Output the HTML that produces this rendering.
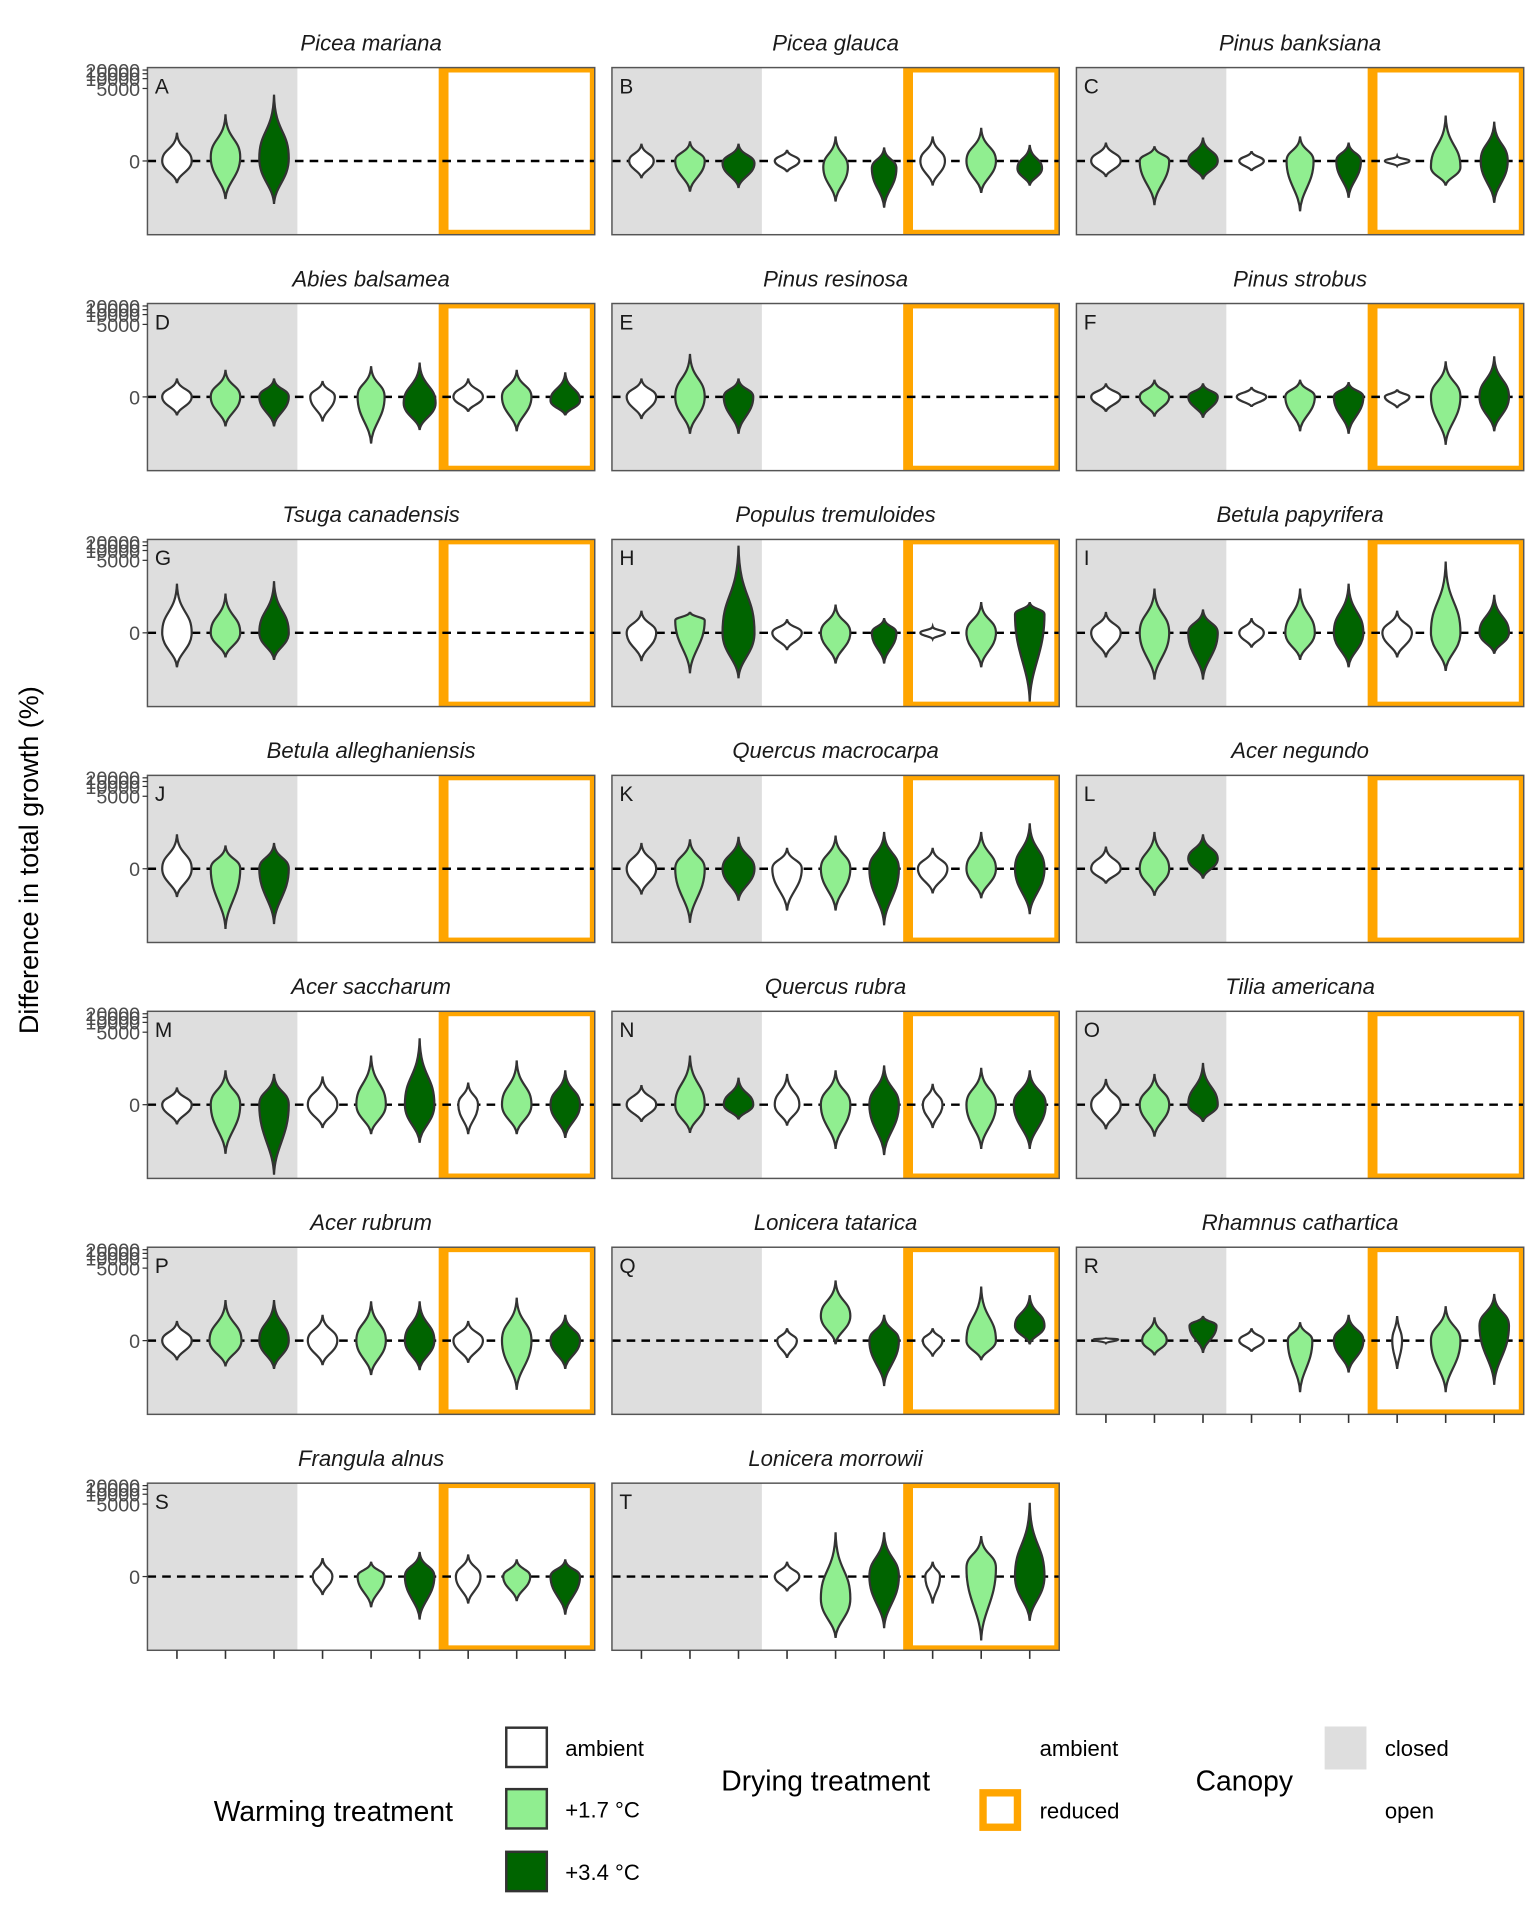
<!DOCTYPE html>
<html><head><meta charset="utf-8"><style>html,body{margin:0;padding:0;background:#fff}svg{display:block}text{font-family:"Liberation Sans",sans-serif}</style></head>
<body>
<svg id="s" width="1536" height="1920" viewBox="0 0 1250 1562.5" preserveAspectRatio="none" xmlns="http://www.w3.org/2000/svg"></svg>
<script>
const W='#ffffff',L='#90EE90',D='#006400';
const cols=[120,498,876],rows=[55,247,439,631,823,1015,1207];
const P=[
["Picea mariana","A",1,[[W,23,18,12,0],[L,38,31,12,-3],[D,54,35,12,-2]]],
["Picea glauca","B",1,[[W,14,14,10,0],[L,16,25,12,0],[D,14,22,13,2],[W,9,9,10,0],[L,20,33,10,5],[D,11,38,10,6],[W,20,20,10,0],[L,27,26,12,0],[D,13,20,10,6]]],
["Pinus banksiana","C",1,[[W,15,13,12,0],[L,12,36,12,0],[D,19,15,12,0],[W,8,8,10,0],[L,20,41,11,0],[D,15,30,10,0],[W,4,4,10,0],[L,37,20,12,5],[D,32,34,11,0]]],
["Abies balsamea","D",1,[[W,15,15,12,0],[L,22,24,12,0],[D,15,24,12,0],[W,13,20,10,0],[L,25,38,11,0],[D,28,27,13,5],[W,15,12,12,0],[L,22,28,12,0],[D,20,15,12,3]]],
["Pinus resinosa","E",1,[[W,15,18,12,0],[L,35,30,12,0],[D,15,30,12,0]]],
["Pinus strobus","F",1,[[W,11,12,12,0],[L,14,16,12,0],[D,11,17,12,0],[W,8,8,12,0],[L,14,28,12,0],[D,12,30,12,0],[W,6,9,10,0],[L,29,39,12,0],[D,33,28,12,0]]],
["Tsuga canadensis","G",1,[[W,40,28,12,0],[L,32,20,12,0],[D,42,22,12,0]]],
["Populus tremuloides","H",1,[[W,18,23,12,0],[L,17,33,12,-10],[D,71,37,13,0],[W,11,14,12,0],[L,23,25,12,0],[D,12,25,10,0],[W,5,5,10,0],[L,25,28,12,0],[D,25,56,12,-15]]],
["Betula papyrifera","I",1,[[W,17,20,12,0],[L,36,38,12,0],[D,19,38,12,0],[W,12,12,10,0],[L,36,22,12,0],[D,40,28,12,0],[W,18,20,12,0],[L,58,31,12,0],[D,31,17,12,0]]],
["Betula alleghaniensis","J",1,[[W,28,23,12,0],[L,19,49,12,0],[D,21,45,12,0]]],
["Quercus macrocarpa","K",1,[[W,21,21,12,0],[L,24,44,12,0],[D,26,26,13,0],[W,17,34,12,0],[L,27,34,12,0],[D,30,46,12,0],[W,17,20,12,0],[L,30,24,12,0],[D,37,37,12,0]]],
["Acer negundo","L",1,[[W,18,12,12,0],[L,30,22,12,0],[D,28,8,12,-8]]],
["Acer saccharum","M",1,[[W,14,16,12,0],[L,28,40,12,0],[D,25,57,12,0],[W,23,19,12,0],[L,40,24,12,0],[D,54,31,12,0],[W,18,24,8,0],[L,36,24,12,0],[D,28,27,12,0]]],
["Quercus rubra","N",1,[[W,16,14,12,0],[L,40,23,12,0],[D,22,12,12,0],[W,25,17,10,0],[L,28,36,12,0],[D,32,41,12,0],[W,17,19,8,0],[L,30,36,12,0],[D,28,36,13,0]]],
["Tilia americana","O",1,[[W,21,20,12,0],[L,25,26,12,0],[D,34,14,12,0]]],
["Acer rubrum","P",1,[[W,16,16,12,0],[L,33,21,13,0],[D,33,23,12,0],[W,21,20,12,0],[L,32,28,12,0],[D,32,24,12,0],[W,16,18,12,0],[L,35,40,12,0],[D,21,23,12,0]]],
["Lonicera tatarica","Q",1,[null,null,null,[W,10,14,8,0],[L,49,3,12,-20],[D,21,37,12,0],[W,10,13,8,0],[L,44,16,12,0],[D,37,3,12,-12]]],
["Rhamnus cathartica","R",1,[[W,2,2,10,0],[L,19,12,10,0],[D,20,10,11,-12],[W,10,9,10,0],[L,15,42,10,0],[D,21,26,12,0],[W,20,23,4,0],[L,28,42,12,0],[D,38,36,12,-12]]],
["Frangula alnus","S",1,[null,null,null,[W,15,15,8,0],[L,12,25,11,0],[D,20,35,12,0],[W,18,22,10,0],[L,14,20,11,0],[D,14,31,12,0]]],
["Lonicera morrowii","T",1,[null,null,null,[W,12,12,10,0],[L,36,50,12,18],[D,36,42,12,0],[W,12,22,6,0],[L,33,52,12,-7],[D,60,36,12,0]]]
];
let h='';
function vio(x,z,v){const [f,up,dn,w,c]=v;const t=z-up,b=z+dn;let cy=z+c;if(cy<t+3)cy=t+3;if(cy>b-3)cy=b-3;
const a=cy-t,d=b-cy;
return `<path d="M${x},${t} C${x+0.8},${t+0.6*a} ${x+w},${cy-0.45*a} ${x+w},${cy} C${x+w},${cy+0.45*d} ${x+0.8},${cy+0.6*d} ${x},${b} C${x-0.8},${cy+0.6*d} ${x-w},${cy+0.45*d} ${x-w},${cy} C${x-w},${cy-0.45*a} ${x-0.8},${t+0.6*a} ${x},${t} Z" fill="${f}" stroke="#333" stroke-width="1.8"/>`;}
P.forEach((p,i)=>{const r=Math.floor(i/3),c=i%3;const x0=cols[c],y0=rows[r],wd=364,ht=136,z=y0+76;
h+=`<rect x="${x0}" y="${y0}" width="122" height="${ht}" fill="#dedede"/>`;
h+=`<rect x="${x0+237}" y="${y0}" width="127" height="${ht}" fill="#FFA500"/><rect x="${x0+245}" y="${y0+4}" width="115" height="${ht-8}" fill="#fff"/>`;
h+=`<line x1="${x0}" x2="${x0+wd}" y1="${z}" y2="${z}" stroke="#000" stroke-width="2" stroke-dasharray="7,5"/>`;
p[3].forEach((v,k)=>{if(v)h+=vio(x0+24+k*39.5,z,v);});
h+=`<rect x="${x0}" y="${y0}" width="${wd}" height="${ht}" fill="none" stroke="#555" stroke-width="1.2"/>`;
h+=`<text x="${x0+182}" y="${y0-14}" font-size="18" font-style="italic" text-anchor="middle" fill="#1a1a1a">${p[0]}</text>`;
h+=`<text x="${x0+6}" y="${y0+21}" font-size="17" fill="#1a1a1a">${p[1]}</text>`;
if(c==0){[[56,'20000'],[59,'15000'],[63,'10000'],[71,'5000']].forEach(([yy,t])=>{h+=`<text x="${x0-6}" y="${y0+yy-56+8}" font-size="16" text-anchor="end" fill="#4d4d4d">${t}</text><line x1="${x0-4}" x2="${x0}" y1="${y0+yy-56+2}" y2="${y0+yy-56+2}" stroke="#333"/>`;});
h+=`<text x="${x0-6}" y="${z+6}" font-size="16" text-anchor="end" fill="#4d4d4d">0</text><line x1="${x0-4}" x2="${x0}" y1="${z}" y2="${z}" stroke="#333"/>`;}
if(i>=17){for(let k=0;k<9;k++){const xx=x0+24+k*39.5;h+=`<line x1="${xx}" x2="${xx}" y1="${y0+ht}" y2="${y0+ht+7}" stroke="#333" stroke-width="1.3"/>`;}}
});
h+=`<text transform="translate(31,700) rotate(-90)" font-size="22" text-anchor="middle" fill="#000">Difference in total growth (%)</text>`;
h+=`<text x="174" y="1482" font-size="23">Warming treatment</text>`;
[[1405,'#fff','ambient'],[1455,L,'+1.7 °C'],[1506,D,'+3.4 °C']].forEach(([y,f,t])=>{h+=`<rect x="412" y="${y+1}" width="33" height="32" fill="${f}" stroke="#333" stroke-width="2"/><text x="460" y="${y+24}" font-size="18">${t}</text>`;});
h+=`<text x="587" y="1457" font-size="23">Drying treatment</text>`;
h+=`<rect x="800" y="1459" width="28" height="28" fill="#fff" stroke="#FFA500" stroke-width="6"/>`;
h+=`<text x="846" y="1429" font-size="18">ambient</text><text x="846" y="1480" font-size="18">reduced</text>`;
h+=`<text x="973" y="1457" font-size="23">Canopy</text><rect x="1078" y="1405" width="34" height="35" fill="#dedede"/>`;
h+=`<text x="1127" y="1429" font-size="18">closed</text><text x="1127" y="1480" font-size="18">open</text>`;
document.getElementById('s').innerHTML=h;
</script>
</body></html>
